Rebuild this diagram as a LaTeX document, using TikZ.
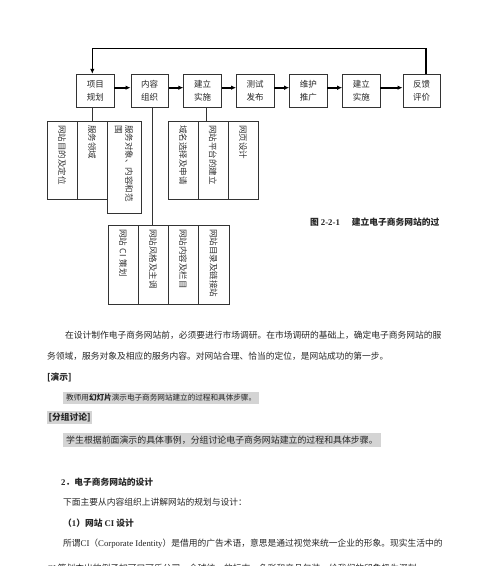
\documentclass[tikz,border=0pt]{standalone}
\usepackage{fontspec}
\setmainfont{Liberation Serif}
\newfontfamily\cjk{Noto Sans CJK SC}
\newfontfamily\latfont{Liberation Serif}
\newcommand\latn[1]{{\latfont #1}}
\usetikzlibrary{arrows.meta}
\begin{document}
\begin{tikzpicture}[x=1pt,y=-1pt,
  topbox/.style={draw=black!80, line width=0.7pt, minimum width=37.5pt, minimum height=33pt, inner sep=0pt, align=center, font=\cjk\fontsize{8.5}{13}\selectfont, text=black!85},
  subbox/.style={draw=black!80, line width=0.7pt, rotate=-90, inner ysep=0pt, inner xsep=4pt, align=left, font=\cjk\fontsize{8.5}{10.5}\selectfont, text=black!80},
  flow/.style={line width=1.6pt, -{Latex[length=5pt,width=4.5pt]}},
  conn/.style={line width=0.7pt, draw=black!80},
  body/.style={anchor=west, inner sep=0pt, font=\cjk\fontsize{8.75}{10}\selectfont, text=black!85},
  bodybold/.style={body, font=\cjk\bfseries\fontsize{8.75}{10}\selectfont},
  hl/.style={fill=black!17},
]
\fill[white] (0,0) rectangle (500,566);
\useasboundingbox (0,0) rectangle (500,566);

% top flow boxes
\node[topbox] (t1) at (95.3,90.7) {项目\\规划};
\node[topbox] (t2) at (149.7,90.7) {内容\\组织};
\node[topbox] (t3) at (202.5,90.7) {建立\\实施};
\node[topbox] (t4) at (255.2,90.7) {测试\\发布};
\node[topbox] (t5) at (308.3,90.7) {维护\\推广};
\node[topbox] (t6) at (361.3,90.7) {建立\\实施};
\node[topbox] (t7) at (421.7,90.7) {反馈\\评价};

\draw[flow] ([yshift=3pt]t1.east) -- ([yshift=3pt]t2.west);
\draw[flow] ([yshift=3pt]t2.east) -- ([yshift=3pt]t3.west);
\draw[flow] ([yshift=3pt]t3.east) -- ([yshift=3pt]t4.west);
\draw[flow] ([yshift=3pt]t4.east) -- ([yshift=3pt]t5.west);
\draw[flow] ([yshift=3pt]t5.east) -- ([yshift=3pt]t6.west);
\draw[flow] ([yshift=3pt]t6.east) -- ([yshift=3pt]t7.west);

\coordinate (fbR) at (425.7,48.3);
\coordinate (fbL) at (92.3,48.3);
\draw[flow] ([xshift=4pt]t7.north) -- (fbR) -- (fbL) -- ([xshift=-3pt]t1.north);

% group 1
\node[subbox, minimum width=78pt, text width=70pt, minimum height=30pt] (g1a) at (62,160) {网站目的及定位};
\node[subbox, minimum width=78pt, text width=70pt, minimum height=30pt] (g1b) at (92,160) {服务领域};
\node[subbox, minimum width=92pt, text width=84pt, minimum height=34pt] (g1c) at (124,167) {服务对象、内容和范\\围};

% group 2
\node[subbox, minimum width=78pt, text width=70pt, minimum height=30pt] (g2a) at (183,160) {域名选择及申请};
\node[subbox, minimum width=78pt, text width=70pt, minimum height=30pt] (g2b) at (213,160) {网站平台的建立};
\node[subbox, minimum width=78pt, text width=70pt, minimum height=30pt] (g2c) at (243,160) {网页设计};

% group 3
\node[subbox, minimum width=79pt, text width=71pt, minimum height=30pt] (g3a) at (123,264.5) {网站 CI 策划};
\node[subbox, minimum width=79pt, text width=71pt, minimum height=30pt] (g3b) at (153,264.5) {网站风格及主调};
\node[subbox, minimum width=79pt, text width=71pt, minimum height=30pt] (g3c) at (183,264.5) {网站内容及栏目};
\node[subbox, minimum width=79pt, text width=71pt, minimum height=31pt] (g3d) at (213.5,264.5) {网站目录及链接站};

% connectors
\draw[conn] ([xshift=-3pt]t1.south) -- ([xshift=-3pt]t1.south |- g1b.west);
\draw[conn] ([xshift=3pt]t2.south) -- ([xshift=3pt]t2.south |- g3b.west);
\draw[conn] ([xshift=4.2pt]t3.south) -- ([xshift=4.2pt]t3.south |- g2b.west);

% caption
\node[bodybold] (cap) at (310,222) {图 \latn{2-2-1}\hspace{12pt}建立电子商务网站的过};

% body text
\node[body] (p1) at (65,335) {在设计制作电子商务网站前，必须要进行市场调研。在市场调研的基础上，确定电子商务网站的服};
\node[body] (p2) at (47,356) {务领域，服务对象及相应的服务内容。对网站合理、恰当的定位，是网站成功的第一步。};
\node[bodybold] (h1) at (47,377) {[演示]};
\node[body, hl, inner xsep=3pt, inner ysep=2.2pt, font=\cjk\fontsize{7.6}{9}\selectfont] (p3) at (63,398) {教师用{\bfseries 幻灯片}演示电子商务网站建立的过程和具体步骤。};
\node[bodybold, hl, inner xsep=1.5pt, inner ysep=2.3pt] (h2) at (47,417.5) {[分组讨论]};
\node[body, hl, inner xsep=3pt, inner ysep=2.3pt, font=\cjk\fontsize{8.9}{10}\selectfont] (p4) at (63,440) {学生根据前面演示的具体事例，分组讨论电子商务网站建立的过程和具体步骤。};
\node[bodybold] (h3) at (61,482) {\latn{2}．电子商务网站的设计};
\node[body] (p5) at (63,502) {下面主要从内容组织上讲解网站的规划与设计：};
\node[bodybold] (h4) at (63,523) {（\latn{1}）网站 \latn{CI} 设计};
\node[body] (p6) at (63,544) {所谓\latn{CI}（\latn{Corporate Identity}）是借用的广告术语，意思是通过视觉来统一企业的形象。现实生活中的};
\node[body] (p7) at (47,568.5) {\latn{CI} 策划杰出的例子如可口可乐公司，全球统一的标志、色彩和产品包装，给我们的印象极为深刻};
\end{tikzpicture}
\end{document}
